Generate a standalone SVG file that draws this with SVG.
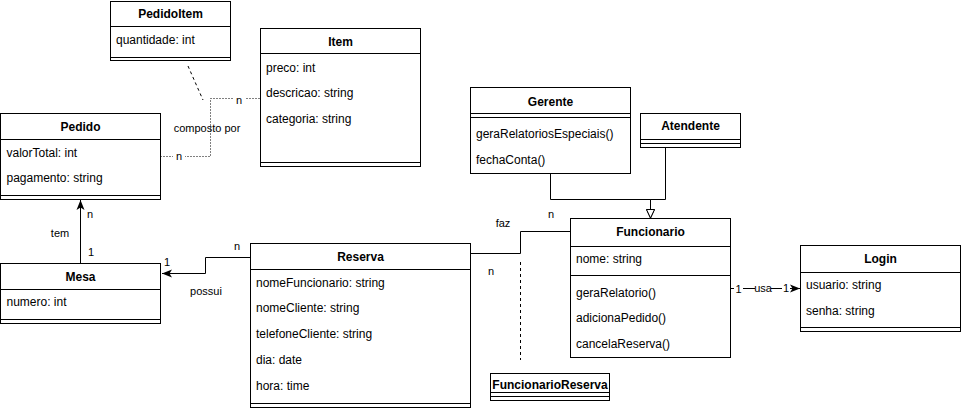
<svg xmlns="http://www.w3.org/2000/svg" width="961" height="409" viewBox="0 0 961 409">
<style>
text{font-family:"Liberation Sans",Arial,Helvetica,sans-serif;fill:#000}
.box{fill:#fff;stroke:#000;stroke-width:1}
.ln{stroke:#000;stroke-width:1;fill:none}
.t{font-size:12px;font-weight:bold;text-anchor:middle}
.a{font-size:12px}
.l{font-size:11px;text-anchor:middle}
.e{stroke:#000;stroke-width:1;fill:none}
.dot{stroke-dasharray:1 2}
.dash{stroke-dasharray:3 3}
.bg{fill:#fff}
</style>
<defs>
<marker id="arr" markerUnits="userSpaceOnUse" markerWidth="10" markerHeight="10" viewBox="0 0 10 10" refX="10" refY="5" orient="auto">
<path d="M0,1 L10,5 L0,9 L2.5,5 z" fill="#000"/>
</marker>
<marker id="tri" markerUnits="userSpaceOnUse" markerWidth="10" markerHeight="10" viewBox="0 0 10 10" refX="9.5" refY="5" orient="auto">
<path d="M1,1 L9.5,5 L1,9 z" fill="#fff" stroke="#000" stroke-width="1"/>
</marker>
</defs>
<g id="connectors">
<path class="e dot" d="M160.5,156.5 H210.5 V98.5 H260"/>
<path class="e dash" d="M188,66 L203,100"/>
<path class="e" d="M80.5,263 V200" marker-end="url(#arr)"/>
<path class="e" d="M250,257.5 H205.5 V273.5 H162" marker-end="url(#arr)"/>
<path class="e" d="M470,253.5 H520.5 V231.5 H570"/>
<path class="e dash" d="M520.5,262 V360" stroke-dasharray="2 2"/>
<path class="e" d="M550.5,173 V199.5 H650.5 V218" marker-end="url(#tri)"/>
<path class="e" d="M665.5,147 V199.5 H650.5 V218" marker-end="url(#tri)"/>
<path class="e" d="M650.5,199.5 V209" stroke-width="2"/>
<path class="e" d="M730,288.5 H800" marker-end="url(#arr)"/>
<rect class="bg" x="233" y="93" width="12" height="13"/>
<text class="l" x="239" y="104">n</text>
<rect class="bg" x="173" y="150" width="12" height="13"/>
<text class="l" x="179" y="160">n</text>
<text class="l" x="207" y="132">composto por</text>
<text class="l" x="60" y="237">tem</text>
<text class="l" x="90" y="218">n</text>
<text class="l" x="91" y="256">1</text>
<text class="l" x="237" y="250">n</text>
<text class="l" x="167" y="266">1</text>
<text class="l" x="206" y="295">possui</text>
<text class="l" x="503" y="227">faz</text>
<text class="l" x="551" y="218">n</text>
<text class="l" x="491" y="275">n</text>
<rect class="bg" x="734" y="282" width="9" height="13"/>
<text class="l" x="738.5" y="292.5">1</text>
<rect class="bg" x="755" y="282" width="16" height="13"/>
<text class="l" x="763" y="292">usa</text>
<rect class="bg" x="782" y="282" width="8" height="13"/>
<text class="l" x="786" y="292">1</text>
</g>
<g id="PedidoItem">
<rect class="box" x="110.5" y="1.5" width="120" height="59"/>
<line class="ln" x1="110.5" y1="26.5" x2="230.5" y2="26.5"/>
<line class="ln" x1="110.5" y1="57.5" x2="230.5" y2="57.5"/>
<text class="t" x="170.5" y="18">PedidoItem</text>
<text class="a" x="116" y="44">quantidade: int</text>
</g>
<g id="Item">
<rect class="box" x="260.5" y="28.5" width="160" height="138"/>
<line class="ln" x1="260.5" y1="53.5" x2="420.5" y2="53.5"/>
<line class="ln" x1="260.5" y1="162.5" x2="420.5" y2="162.5"/>
<text class="t" x="340.5" y="46">Item</text>
<text class="a" x="266" y="72">preco: int</text>
<text class="a" x="266" y="97">descricao: string</text>
<text class="a" x="266" y="123">categoria: string</text>
</g>
<g id="Pedido">
<rect class="box" x="0.5" y="113.5" width="160" height="86"/>
<line class="ln" x1="0.5" y1="139.5" x2="160.5" y2="139.5"/>
<line class="ln" x1="0.5" y1="195.5" x2="160.5" y2="195.5"/>
<text class="t" x="80.5" y="131">Pedido</text>
<text class="a" x="6.5" y="157">valorTotal: int</text>
<text class="a" x="6.5" y="182">pagamento: string</text>
</g>
<g id="Mesa">
<rect class="box" x="0.5" y="263.5" width="160" height="60"/>
<line class="ln" x1="0.5" y1="289.5" x2="160.5" y2="289.5"/>
<line class="ln" x1="0.5" y1="319.5" x2="160.5" y2="319.5"/>
<text class="t" x="80.5" y="281">Mesa</text>
<text class="a" x="6.5" y="306">numero: int</text>
</g>
<g id="Reserva">
<rect class="box" x="250.5" y="243.5" width="220" height="164"/>
<line class="ln" x1="250.5" y1="269.5" x2="470.5" y2="269.5"/>
<line class="ln" x1="250.5" y1="403.5" x2="470.5" y2="403.5"/>
<text class="t" x="360.5" y="261">Reserva</text>
<text class="a" x="256" y="287">nomeFuncionario: string</text>
<text class="a" x="256" y="312">nomeCliente: string</text>
<text class="a" x="256" y="338">telefoneCliente: string</text>
<text class="a" x="256" y="364">dia: date</text>
<text class="a" x="256" y="390">hora: time</text>
</g>
<g id="Gerente">
<rect class="box" x="470.5" y="87.5" width="160" height="86"/>
<line class="ln" x1="470.5" y1="113.5" x2="630.5" y2="113.5"/>
<line class="ln" x1="470.5" y1="117.5" x2="630.5" y2="117.5"/>
<text class="t" x="550.5" y="106">Gerente</text>
<text class="a" x="476" y="138">geraRelatoriosEspeciais()</text>
<text class="a" x="476" y="164">fechaConta()</text>
</g>
<g id="Atendente">
<rect class="box" x="640.5" y="113.5" width="100" height="34"/>
<line class="ln" x1="640.5" y1="139.5" x2="740.5" y2="139.5"/>
<line class="ln" x1="640.5" y1="143.5" x2="740.5" y2="143.5"/>
<text class="t" x="690.5" y="130">Atendente</text>
</g>
<g id="Funcionario">
<rect class="box" x="570.5" y="218.5" width="160" height="139"/>
<line class="ln" x1="570.5" y1="246.5" x2="730.5" y2="246.5"/>
<line class="ln" x1="570.5" y1="275.5" x2="730.5" y2="275.5"/>
<text class="t" x="650.5" y="236">Funcionario</text>
<text class="a" x="576" y="263">nome: string</text>
<text class="a" x="576" y="297">geraRelatorio()</text>
<text class="a" x="576" y="322">adicionaPedido()</text>
<text class="a" x="576" y="348">cancelaReserva()</text>
</g>
<g id="FuncionarioReserva">
<rect class="box" x="490.5" y="373.5" width="119" height="27"/>
<line class="ln" x1="490.5" y1="392.5" x2="609.5" y2="392.5"/>
<line class="ln" x1="490.5" y1="396.5" x2="609.5" y2="396.5"/>
<text class="t" x="550" y="389">FuncionarioReserva</text>
</g>
<g id="Login">
<rect class="box" x="800.5" y="245.5" width="160" height="86"/>
<line class="ln" x1="800.5" y1="272.5" x2="960.5" y2="272.5"/>
<line class="ln" x1="800.5" y1="327.5" x2="960.5" y2="327.5"/>
<text class="t" x="880.5" y="263">Login</text>
<text class="a" x="806" y="289">usuario: string</text>
<text class="a" x="806" y="315">senha: string</text>
</g>
</svg>
